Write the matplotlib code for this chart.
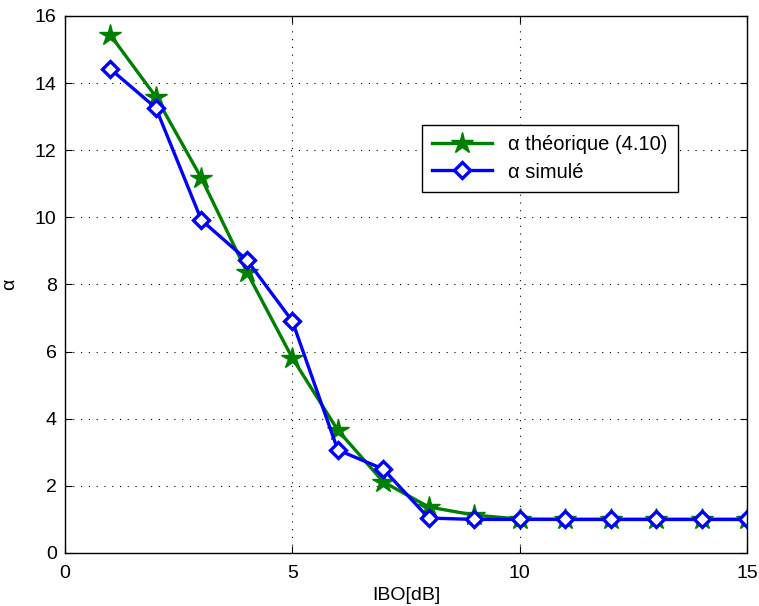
import matplotlib
matplotlib.use("Agg")
import matplotlib.pyplot as plt

# ------------ données ------------
ibo_db = [1, 2, 3, 4, 5, 6, 7, 8, 9, 10, 11, 12, 13, 14, 15]
alpha_theorique = [15.43, 13.59, 11.17, 8.37, 5.81, 3.66, 2.12, 1.37, 1.13,
                   1.01, 1.0, 1.0, 1.0, 1.0, 1.0]
alpha_simule = [14.42, 13.26, 9.92, 8.73, 6.91, 3.07, 2.50, 1.04, 1.0,
                1.0, 1.0, 1.0, 1.0, 1.0, 1.0]
xticks = [0, 5, 10, 15]
yticks = [0, 2, 4, 6, 8, 10, 12, 14, 16]
# ----------------------------------------------------

plt.rcParams["font.family"] = ["Liberation Sans", "DejaVu Sans"]

fig = plt.figure(figsize=(7.59, 6.06), dpi=100)
ax = fig.add_axes([0.0856, 0.0875, 0.8986, 0.8861])

ax.plot(ibo_db, alpha_theorique, color="#008000", linewidth=2.4,
        marker="*", markersize=16, label="α théorique (4.10)")
ax.plot(ibo_db, alpha_simule, color="#0000ff", linewidth=2.4,
        marker="D", markersize=8.5, markerfacecolor="white",
        markeredgewidth=2.4, label="α simulé")

ax.set_xlim(0, 15)
ax.set_ylim(0, 16)
ax.set_xticks(xticks)
ax.set_yticks(yticks)
ax.tick_params(direction="in", length=5, top=True, right=True,
               labelsize=14, colors="black")
ax.tick_params(axis="x", pad=9)
ax.tick_params(axis="y", pad=6)
ax.grid(True, color="black", linestyle=(0, (1, 6)), linewidth=0.8)
for s in ax.spines.values():
    s.set_linewidth(1.0)
    s.set_color("black")

# le libellé touche le bas de la figure, comme sur l'original
ax.set_xlabel("IBO[dB]", fontsize=14, labelpad=3)
ax.set_ylabel("α", fontsize=14, labelpad=12)

leg = ax.legend(loc="upper left", bbox_to_anchor=(0.508, 0.815), fontsize=14.5,
                fancybox=False, edgecolor="black", framealpha=1,
                handlelength=3.0, borderpad=0.5, labelspacing=0.4)
leg.get_frame().set_linewidth(1.0)

fig.savefig("out.png", dpi=100)
